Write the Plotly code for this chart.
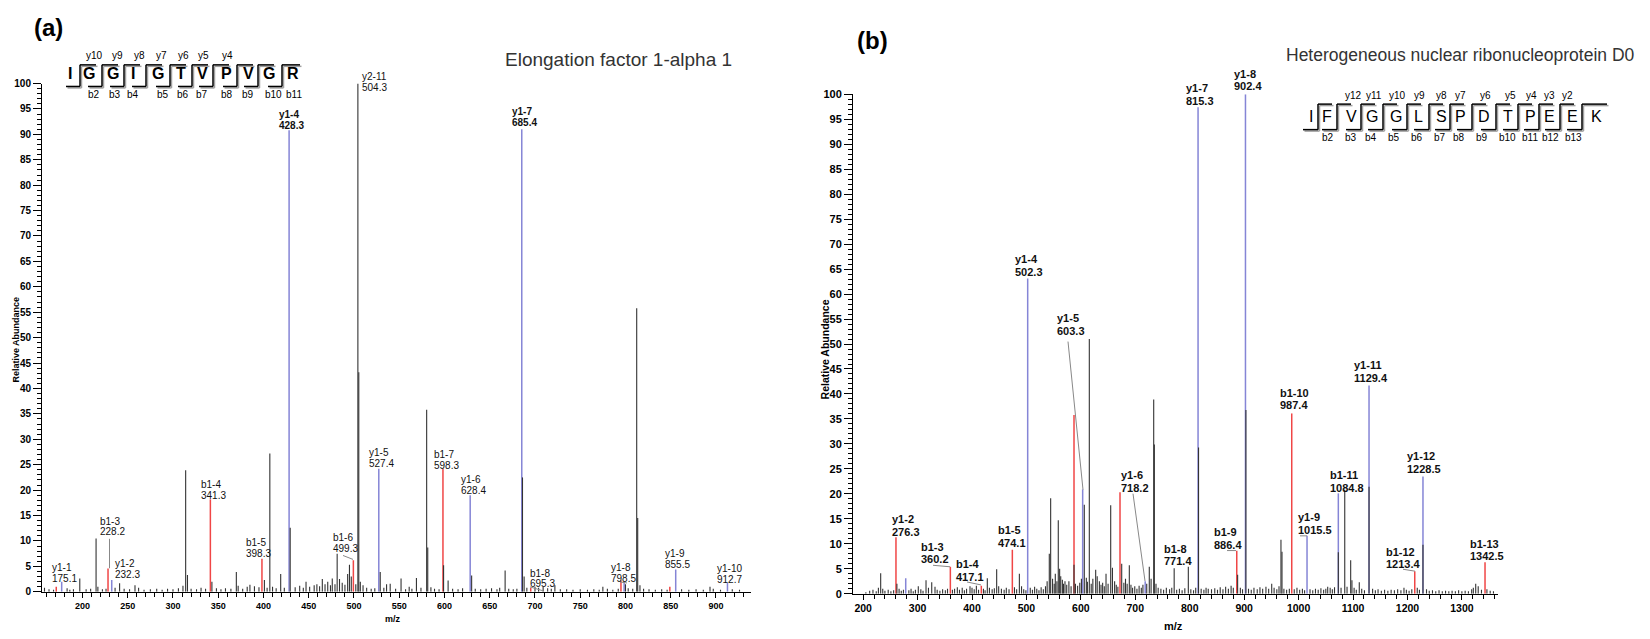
import plotly.graph_objects as go

W, H = 1650, 639
FONT = "Liberation Sans, Arial, sans-serif"

# ---------------- Panel (a): Elongation factor 1-alpha 1 ----------------
A_TITLE = "Elongation factor 1-alpha 1"
A_SEQ = "IGGIGTVPVGR"
A_SEQ_Y = ["y10", "y9", "y8", "y7", "y6", "y5", "y4"]
A_SEQ_B = ["b2", "b3", "b4", "b5", "b6", "b7", "b8", "b9", "b10", "b11"]

# b ions (red) and y ions (blue): m/z, relative abundance
A_B_MZ = [171.0, 228.2, 341.3, 398.3, 499.3, 598.3, 695.3, 795.0, 849.0]
A_B_INT = [1.0, 4.6, 18.2, 6.5, 6.2, 24.2, 0.8, 2.2, 1.0]
A_Y_MZ = [177.0, 232.3, 428.3, 527.4, 628.4, 685.4, 798.5, 855.5, 912.7]
A_Y_INT = [2.0, 2.3, 90.8, 24.2, 19.0, 91.0, 1.9, 4.4, 1.8]
# other (unassigned) peaks
A_OTHER = [
    (158, 0.8), (163, 0.5), (168, 0.4), (183, 0.7), (186, 0.4), (190, 0.5), (197, 2.6), (204, 0.5),
    (209, 0.6), (215, 10.5), (217, 1.0), (222, 0.5), (226, 0.6), (236, 0.8), (241, 1.7), (246, 0.6),
    (252, 0.5), (258, 1.3), (262, 0.8), (268, 0.4), (275, 0.5), (282, 0.6), (288, 0.4), (294, 0.6),
    (300, 0.5), (306, 0.7), (311, 1.2), (314, 23.9), (316, 3.3), (320, 0.6), (326, 0.5), (331, 0.8),
    (336, 0.6), (343, 2.0), (348, 0.7), (353, 0.5), (358, 0.7), (364, 0.6), (370, 3.9), (372, 1.2),
    (377, 0.6), (382, 1.0), (385, 1.4), (390, 1.1), (395, 0.9), (401, 2.3), (404, 0.8), (407, 27.2),
    (410, 1.0), (414, 0.7), (419, 3.5), (423, 0.8), (429.5, 12.6), (435, 0.9), (440, 1.2), (444, 0.8),
    (447, 2.0), (451, 1.0), (456, 1.3), (459, 1.5), (462, 1.1), (465, 2.5), (468, 1.5), (471, 2.0),
    (474, 1.3), (476, 2.6), (479, 1.5), (481.4, 7.5), (484, 2.5), (487, 1.8), (490, 1.4), (493, 3.5),
    (495, 5.3), (497, 3.0), (502, 1.5), (504.3, 100.0), (505.3, 43.2), (507, 2.0), (510, 1.3), (514, 0.8),
    (519, 0.6), (523, 0.7), (529, 3.9), (533, 0.8), (536, 1.5), (540, 1.6), (546, 0.6), (552, 2.6),
    (557, 0.5), (561, 1.0), (564, 0.6), (569, 2.7), (574, 0.8), (580.3, 35.8), (581.5, 8.7), (585, 0.9),
    (589, 0.6), (594, 0.5), (599, 5.2), (604, 2.2), (609, 0.6), (615, 0.5), (620, 0.7), (630, 3.2),
    (634, 0.6), (640, 0.5), (646, 0.6), (652, 0.7), (658, 0.5), (661, 0.8), (667, 4.2), (671, 0.6),
    (676, 0.5), (680, 0.6), (686.2, 22.5), (688, 3.0), (691, 0.8), (700, 1.0), (704, 0.8), (709, 1.0),
    (714, 0.7), (718, 0.6), (722, 1.3), (728, 0.5), (735, 0.5), (742, 0.4), (750, 0.5), (758, 0.4),
    (765, 0.5), (771, 0.4), (775, 1.0), (780, 0.6), (786, 0.4), (792, 0.6), (800, 1.5), (803, 0.7),
    (808, 0.6), (812.4, 55.8), (813.5, 14.5), (816, 1.3), (820, 0.6), (826, 0.5), (833, 0.4), (840, 0.5),
    (846, 0.4), (862, 0.5), (870, 0.4), (878, 0.5), (886, 0.4), (893.4, 1.0), (897, 0.6), (905, 0.4),
    (918, 0.5), (926, 0.4),
]
A_LABEL_ION = ["y1-1", "b1-3", "y1-2", "b1-4", "b1-5", "y1-4", "b1-6", "y2-11", "y1-5", "b1-7",
               "y1-6", "y1-7", "b1-8", "y1-8", "y1-9", "y1-10"]
A_LABEL_MZ = ["175.1", "228.2", "232.3", "341.3", "398.3", "428.3", "499.3", "504.3", "527.4", "598.3",
              "628.4", "685.4", "695.3", "798.5", "855.5", "912.7"]

# ---------------- Panel (b): hnRNP D0 ----------------
B_TITLE = "Heterogeneous nuclear ribonucleoprotein D0"
B_SEQ = "IFVGGLSPDTPEEK"
B_SEQ_Y = ["y12", "y11", "y10", "y9", "y8", "y7", "y6", "y5", "y4", "y3", "y2"]
B_SEQ_B = ["b2", "b3", "b4", "b5", "b6", "b7", "b8", "b9", "b10", "b11", "b12", "b13"]

B_B_MZ = [260.3, 360.2, 417.1, 474.1, 587.4, 671.9, 886.4, 987.4, 1213.4, 1342.5]
B_B_INT = [11.3, 5.4, 1.6, 8.8, 35.8, 20.3, 8.6, 36.1, 4.5, 6.3]
B_Y_MZ = [278.2, 502.3, 603.3, 718.2, 815.3, 902.4, 1015.5, 1073.0, 1129.4, 1228.5]
B_Y_INT = [3.1, 63.1, 20.9, 2.5, 97.4, 100.0, 11.6, 20.1, 41.7, 23.5]
B_OTHER = [
    (205, 0.3), (212, 0.6), (218, 0.8), (224, 0.5), (228, 1.2), (232.2, 4.1), (236, 1.0), (240, 0.6),
    (246, 0.8), (251, 0.5), (256, 0.7), (262, 2.0), (266, 1.0), (270, 0.6), (274, 0.8), (284, 0.7),
    (288, 1.0), (292, 0.5), (296, 0.8), (301.3, 1.5), (306, 0.9), (310, 0.6), (315.5, 2.7), (320, 1.2),
    (326, 2.3), (332, 1.4), (336, 0.8), (341, 0.6), (346, 0.9), (351, 0.7), (355, 1.0), (364, 0.8),
    (368, 1.0), (373, 1.3), (377, 0.8), (382, 1.2), (386, 0.7), (390, 1.0), (396.3, 1.5), (400, 1.2),
    (404, 0.9), (408, 1.6), (412, 0.8), (421, 1.0), (424, 0.7), (428.1, 3.1), (432, 1.2), (437, 0.9),
    (441, 1.1), (445.3, 4.9), (449, 1.5), (454, 1.0), (459, 0.8), (463, 1.2), (468, 0.9), (478, 1.3),
    (482, 0.9), (487, 4.0), (491, 1.5), (495, 0.9), (499, 0.7), (507, 1.2), (511, 0.8), (515, 1.4),
    (519, 1.0), (523, 0.7), (527, 1.3), (531, 0.9), (535, 1.5), (538, 2.5), (542, 8.0), (544.5, 19.1),
    (548, 3.0), (551, 2.0), (553, 4.0), (556, 2.5), (558.5, 14.7), (561, 5.0), (563, 3.5), (566, 2.8),
    (568, 2.0), (570.8, 2.5), (574, 1.8), (578, 2.5), (582, 1.5), (587.4, 5.8), (590, 2.0), (594, 1.6),
    (598, 2.2), (601, 3.0), (606.3, 17.8), (610, 3.2), (612, 2.4), (615.5, 51.0), (619, 2.0), (622, 3.0),
    (627.2, 4.8), (630, 3.5), (634, 2.5), (637, 1.8), (640, 2.2), (643, 1.5), (646.2, 4.0), (650, 2.0),
    (654.8, 17.7), (658, 5.2), (662, 2.5), (665, 1.8), (668, 1.4), (675, 6.0), (679, 2.2), (682, 3.0),
    (685, 2.0), (689, 5.7), (692, 1.8), (695, 1.2), (699, 1.5), (703, 1.0), (707, 1.6), (711, 1.2),
    (714, 1.8), (721, 2.0), (725.7, 5.4), (729, 3.0), (733.8, 38.9), (735, 29.9), (738, 2.0), (742, 1.2),
    (747, 1.0), (752, 0.8), (757, 1.2), (763, 0.9), (767, 1.2), (771.4, 5.1), (776, 0.8), (781, 1.0),
    (786, 0.7), (791, 1.1), (797.4, 5.4), (802, 0.9), (807, 0.7), (811, 1.2), (816.2, 29.3), (821, 1.0),
    (826, 0.8), (830, 1.2), (834, 1.0), (840, 0.9), (846, 1.1), (851, 0.8), (856, 1.3), (861, 0.9),
    (866, 1.4), (871, 1.0), (876, 1.6), (880, 1.2), (888, 3.8), (893, 1.2), (897, 0.9), (903.2, 36.8),
    (908, 1.0), (913, 0.8), (918, 1.2), (924, 0.9), (929, 1.3), (934, 1.0), (940, 1.4), (945, 1.0),
    (950.6, 2.0), (955, 1.2), (960, 0.9), (964, 1.5), (967.6, 10.8), (969.5, 8.4), (973, 1.0), (978, 0.8),
    (983, 1.0), (992, 0.9), (997, 1.2), (1002, 0.8), (1007, 1.0), (1011, 0.7), (1021, 0.9), (1026, 0.7),
    (1031, 1.0), (1036, 0.8), (1041, 1.1), (1046, 0.8), (1050, 1.0), (1053.5, 1.4), (1058, 1.2),
    (1062, 0.9), (1066, 1.3), (1073.0, 8.3), (1078, 1.2), (1084.8, 20.8), (1089, 1.4), (1095.7, 6.7),
    (1098, 2.7), (1102, 1.2), (1106, 0.8), (1111.5, 2.3), (1116, 1.0), (1121, 0.7), (1129.4, 21.4),
    (1136, 1.0), (1141, 0.7), (1146, 0.9), (1152, 0.6), (1158, 0.8), (1164, 0.6), (1170, 0.8), (1176, 0.7),
    (1182, 0.9), (1188, 0.7), (1193.6, 1.2), (1198, 0.8), (1203, 0.6), (1208, 0.9), (1218, 1.2),
    (1222, 0.8), (1228.5, 9.8), (1235, 0.9), (1240, 0.6), (1246, 0.7), (1252, 0.5), (1258, 0.7),
    (1264, 0.5), (1270, 0.6), (1276, 0.5), (1282, 0.6), (1288, 0.5), (1294, 0.7), (1300, 0.5), (1306, 0.6),
    (1312, 0.5), (1318, 0.9), (1321, 1.2), (1325.4, 2.0), (1330, 1.5), (1336, 0.8), (1346, 0.9),
    (1352, 0.6), (1358, 0.5),
]
B_LABEL_ION = ["y1-2", "b1-3", "b1-4", "b1-5", "y1-4", "y1-5", "y1-6", "b1-8", "y1-7", "b1-9",
               "y1-8", "b1-10", "y1-9", "b1-11", "y1-11", "b1-12", "y1-12", "b1-13"]
B_LABEL_MZ = ["276.3", "360.2", "417.1", "474.1", "502.3", "603.3", "718.2", "771.4", "815.3", "886.4",
              "902.4", "987.4", "1015.5", "1084.8", "1129.4", "1213.4", "1228.5", "1342.5"]

# ---------------- layout / styling (pixel positions) ----------------
A_XPIX, A_XRANGE = (42, 751), (155.25, 938.7)
A_YPIX = (597, 79)
B_XPIX, B_XRANGE = (853, 1498), (181.35, 1366.35)
B_YPIX = (599, 90)

A_LABEL_POS = [(50, 567), (98, 520), (113, 563), (199, 483), (244, 542), (277, 106), (331, 537),
               (360, 67), (367, 450), (432, 452), (459, 478), (510, 103), (528, 573), (609, 567),
               (663, 553), (715, 568)]
A_LABEL_BOLD = [False, False, False, False, False, True, False, False, False, False, False, True,
                False, False, False, False]
B_LABEL_POS = [(890, 517), (919, 545), (954, 563), (996, 528), (1013, 252), (1055, 312), (1119, 472),
               (1162, 547), (1184, 78), (1212, 530), (1232, 63), (1278, 388), (1296, 515), (1328, 472),
               (1352, 360), (1384, 550), (1405, 453), (1468, 542)]
# connector lines (pixel coordinates)
CONNECTORS = [((109.5, 543), (109.5, 573)), ((343, 560), (353, 564)), ((530, 592), (543, 596)),
              ((620, 587), (627, 588)),
              ((933, 570), (950, 571.5)), ((967, 587), (981, 590)), ((1068, 342), (1083, 493)),
              ((1133, 497), (1145, 586)), ((1227, 555), (1236, 555)), ((1403, 574), (1415, 576)),
              ((1300, 540), (1307, 540))]

A_SEQ_X = [70, 89, 113, 133, 158, 181, 202, 226, 248, 269, 293]
A_CUTS = [80, 102, 124, 146, 170, 192, 213, 237, 258, 282]
A_SEQ_YX = [94, 117, 139, 161, 183, 203, 227]
A_SEQ_BX = [94, 115, 133, 163, 183, 202, 227, 248, 273, 294]
B_SEQ_X = [1311, 1327, 1351, 1372, 1396, 1418, 1441, 1460, 1484, 1508, 1530, 1549, 1572, 1596]
B_CUTS = [1318, 1337, 1361, 1383, 1407, 1429, 1450, 1472, 1496, 1518, 1539, 1560, 1582]
B_SEQ_YX = [1353, 1374, 1397, 1419, 1441, 1460, 1485, 1510, 1531, 1549, 1567]
B_SEQ_BX = [1328, 1351, 1371, 1394, 1417, 1440, 1459, 1482, 1507, 1530, 1550, 1573]

RED = "#f04646"
BLUE = "#8585d6"
BLACK = "#333333"


def px(x):
    return x / W


def py(y):
    return 1 - y / H


fig = go.Figure()


def add_stems(mzs, ints, color, width, xa, ya):
    xs, ys = [], []
    for m, v in zip(mzs, ints):
        xs += [m, m, None]
        ys += [0, v, None]
    fig.add_trace(go.Scatter(x=xs, y=ys, mode="lines", line=dict(color=color, width=width),
                             xaxis=xa, yaxis=ya, hoverinfo="skip", showlegend=False))


add_stems(A_B_MZ, A_B_INT, RED, 1.5, "x", "y")
add_stems(A_Y_MZ, A_Y_INT, BLUE, 1.5, "x", "y")
add_stems([p[0] for p in A_OTHER], [p[1] for p in A_OTHER], BLACK, 1.1, "x", "y")
add_stems(B_B_MZ, B_B_INT, RED, 1.5, "x2", "y2")
add_stems(B_Y_MZ, B_Y_INT, BLUE, 1.5, "x2", "y2")
add_stems([p[0] for p in B_OTHER], [p[1] for p in B_OTHER], BLACK, 1.1, "x2", "y2")

annotations = []
shapes = []


def text(x, y, s, size, bold=False, color="black", xanchor="center", angle=0):
    annotations.append(dict(x=px(x), y=py(y), xref="paper", yref="paper", text=s, showarrow=False,
                            xanchor=xanchor, yanchor="middle", textangle=angle,
                            font=dict(family=FONT, size=size, color=color,
                                      weight="bold" if bold else "normal")))


def line(p0, p1, color="black", width=1.5):
    shapes.append(dict(type="line", xref="paper", yref="paper", x0=px(p0[0]), y0=py(p0[1]),
                       x1=px(p1[0]), y1=py(p1[1]), line=dict(color=color, width=width)))


# peak labels
for ion, mz, (lx, ly), b in zip(A_LABEL_ION, A_LABEL_MZ, A_LABEL_POS, A_LABEL_BOLD):
    text(lx, ly + 5, ion, 10, bold=b, color="#111", xanchor="left")
    text(lx, ly + 16, mz, 10, bold=b, color="#111", xanchor="left")
for ion, mz, (lx, ly) in zip(B_LABEL_ION, B_LABEL_MZ, B_LABEL_POS):
    text(lx, ly + 6, ion, 11, bold=True, color="#111", xanchor="left")
    text(lx, ly + 19, mz, 11, bold=True, color="#111", xanchor="left")
for p0, p1 in CONNECTORS:
    line(p0, p1, color="#888888", width=1)

# panel letters, titles, axis titles
text(48, 22, "(a)", 24, bold=True)
text(873, 35, "(b)", 24, bold=True)
text(618, 55, A_TITLE, 19, color="#333")
text(1460, 50, B_TITLE, 17.5, color="#333")
text(16, 340, "Relative Abundance", 9, bold=True, angle=-90)
text(825, 350, "Relative Abundance", 10.5, bold=True, angle=-90)
text(393, 625, "m/z", 9, bold=True)
text(1173, 632, "m/z", 11, bold=True)


def sequence(seq, xs, cuts, ylabs, yxs, blabs, bxs, y_letter, y_top, y_bot, y_ylab, y_blab,
             bold, bot_len, top_len, last_top):
    for ch, x in zip(seq, xs):
        text(x, y_letter, ch, 16, bold=bold)
    for i, c in enumerate(cuts):
        tl = last_top if i == len(cuts) - 1 else top_len
        pts = [(c - bot_len, y_bot), (c, y_bot), (c, y_top), (c + tl, y_top)]
        for k in range(3):  # shadow
            line((pts[k][0] + 1.5, pts[k][1] + 1.5), (pts[k + 1][0] + 1.5, pts[k + 1][1] + 1.5),
                 color="#a0a0a0", width=1.5)
        for k in range(3):
            line(pts[k], pts[k + 1], color="black", width=1.5)
    for s, x in zip(ylabs, yxs):
        text(x, y_ylab, s, 10)
    for s, x in zip(blabs, bxs):
        text(x, y_blab, s, 10)


sequence(A_SEQ, A_SEQ_X, A_CUTS, A_SEQ_Y, A_SEQ_YX, A_SEQ_B, A_SEQ_BX,
         69, 60, 82, 50, 90, True, 14, 16, 18)
sequence(B_SEQ, B_SEQ_X, B_CUTS, B_SEQ_Y, B_SEQ_YX, B_SEQ_B, B_SEQ_BX,
         113, 100, 126, 91, 134, False, 15, 14, 25)


def xaxis(pix, rng, anchor, dtick, minor, size):
    return dict(domain=[px(pix[0]), px(pix[1])], range=list(rng), anchor=anchor, showline=True,
                linecolor="black", linewidth=1, ticks="outside", ticklen=5, tickwidth=1,
                tickcolor="black", tick0=0, dtick=dtick, showgrid=False, zeroline=False,
                tickfont=dict(family=FONT, size=size, color="black", weight="bold"),
                minor=dict(ticks="outside", ticklen=4, tickwidth=1, tickcolor="black", dtick=minor,
                           tick0=0, showgrid=False))


def yaxis(pix, anchor, size):
    return dict(domain=[py(pix[0]), py(pix[1])], range=[0, 100], anchor=anchor, showline=True,
                linecolor="black", linewidth=1, ticks="outside", ticklen=8, tickwidth=1,
                tickcolor="black", tick0=0, dtick=5, showgrid=False, zeroline=False,
                tickfont=dict(family=FONT, size=size, color="black", weight="bold"),
                minor=dict(ticks="outside", ticklen=4, tickwidth=1, tickcolor="black", dtick=1,
                           tick0=0, showgrid=False))


fig.update_layout(
    width=W, height=H, margin=dict(l=0, r=0, t=0, b=0),
    paper_bgcolor="white", plot_bgcolor="white", showlegend=False,
    xaxis=xaxis(A_XPIX, A_XRANGE, "y", 50, 10, 9),
    yaxis=yaxis(A_YPIX, "x", 10),
    xaxis2=xaxis(B_XPIX, B_XRANGE, "y2", 100, 20, 10.5),
    yaxis2=yaxis(B_YPIX, "x2", 11),
    annotations=annotations, shapes=shapes,
)

fig.write_html("out.html")
